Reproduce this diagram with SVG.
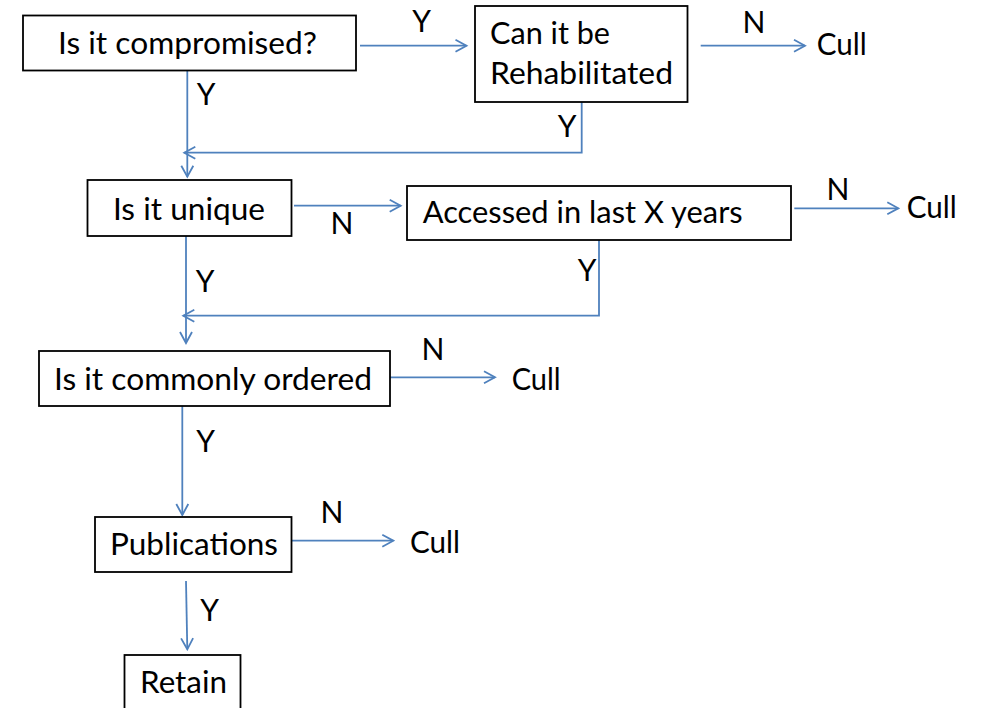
<svg xmlns="http://www.w3.org/2000/svg" width="985" height="708" viewBox="0 0 985 708">
  <style>
    .box { fill: #ffffff; stroke: #000000; stroke-width: 1.8; }
    .t { font-family: Lato, "Open Sans", "Liberation Sans", sans-serif; font-size: 31px; fill: #000000; }
    .lbl { font-family: Lato, "Open Sans", "Liberation Sans", sans-serif; font-size: 30px; fill: #000000; text-anchor: middle; }
    .c { fill: none; stroke: #4F81BD; stroke-width: 1.8; marker-end: url(#arr); }
  </style>
  <defs>
    <marker id="arr" markerUnits="userSpaceOnUse" markerWidth="14" markerHeight="16" refX="12" refY="7" orient="auto" viewBox="0 0 14 14">
      <path d="M1,1 L12,7 L1,13" fill="none" stroke="#4F81BD" stroke-width="1.8"/>
    </marker>
  </defs>
  <rect width="985" height="708" fill="#ffffff"/>

  <g id="connectors">
    <path class="c" d="M360,45.7 H466.5"/>
    <path class="c" d="M700.7,45.7 H805"/>
    <path class="c" d="M187.3,70.7 V176.7"/>
    <path class="c" d="M581.7,101.7 V152.7 H184.3"/>
    <path class="c" d="M294,205.7 H400.7"/>
    <path class="c" d="M794.3,208.3 H898.3"/>
    <path class="c" d="M186,236 V343"/>
    <path class="c" d="M599,240 V315.7 H183.3"/>
    <path class="c" d="M390,377.3 H495"/>
    <path class="c" d="M182.3,406 V515"/>
    <path class="c" d="M288.7,540.7 H393.3"/>
    <path class="c" d="M186,581 L187.3,649.3"/>
    <text class="lbl" x="421.7" y="31.7">Y</text>
    <text class="lbl" x="754" y="33.3">N</text>
    <text class="lbl" x="206" y="105">Y</text>
    <text class="lbl" x="567" y="136.7">Y</text>
    <text class="lbl" x="342" y="234">N</text>
    <text class="lbl" x="838" y="200">N</text>
    <text class="lbl" x="587" y="281">Y</text>
    <text class="lbl" x="205" y="291.7">Y</text>
    <text class="lbl" x="433" y="360">N</text>
    <text class="lbl" x="205.5" y="451.7">Y</text>
    <text class="lbl" x="332" y="522.7">N</text>
    <text class="lbl" x="209.5" y="620.7">Y</text>
  </g>

  <g id="compromised">
    <rect class="box" x="23" y="15.5" width="333" height="55"/>
    <text class="t" x="58" y="54.3" textLength="259" lengthAdjust="spacingAndGlyphs">Is it compromised?</text>
  </g>
  <g id="rehabilitated">
    <rect class="box" x="475" y="6" width="212.5" height="96"/>
    <text class="t" x="490" y="44.3" textLength="120" lengthAdjust="spacingAndGlyphs">Can it be</text>
    <text class="t" x="490" y="84" textLength="183" lengthAdjust="spacingAndGlyphs">Rehabilitated</text>
  </g>
  <g id="cull1">
    <text class="t" x="816.7" y="55" textLength="50" lengthAdjust="spacingAndGlyphs">Cull</text>
  </g>
  <g id="unique">
    <rect class="box" x="87.5" y="180" width="204" height="56"/>
    <text class="t" x="113" y="220" textLength="152" lengthAdjust="spacingAndGlyphs">Is it unique</text>
  </g>
  <g id="accessed">
    <rect class="box" x="407" y="186" width="384" height="54"/>
    <text class="t" x="422.7" y="223.3" textLength="320" lengthAdjust="spacingAndGlyphs">Accessed in last X years</text>
  </g>
  <g id="cull2">
    <text class="t" x="906.7" y="218.3" textLength="50" lengthAdjust="spacingAndGlyphs">Cull</text>
  </g>
  <g id="commonly">
    <rect class="box" x="39" y="351" width="351" height="55"/>
    <text class="t" x="54" y="390" textLength="318" lengthAdjust="spacingAndGlyphs">Is it commonly ordered</text>
  </g>
  <g id="cull3">
    <text class="t" x="511.7" y="390" textLength="49" lengthAdjust="spacingAndGlyphs">Cull</text>
  </g>
  <g id="publications">
    <rect class="box" x="95" y="517" width="196.5" height="55"/>
    <text class="t" x="110" y="555" textLength="168" lengthAdjust="spacingAndGlyphs">Publications</text>
  </g>
  <g id="cull4">
    <text class="t" x="410" y="552.7" textLength="50" lengthAdjust="spacingAndGlyphs">Cull</text>
  </g>
  <g id="retain">
    <rect class="box" x="124.5" y="655" width="116" height="60"/>
    <text class="t" x="140" y="693.3" textLength="87" lengthAdjust="spacingAndGlyphs">Retain</text>
  </g>
</svg>
